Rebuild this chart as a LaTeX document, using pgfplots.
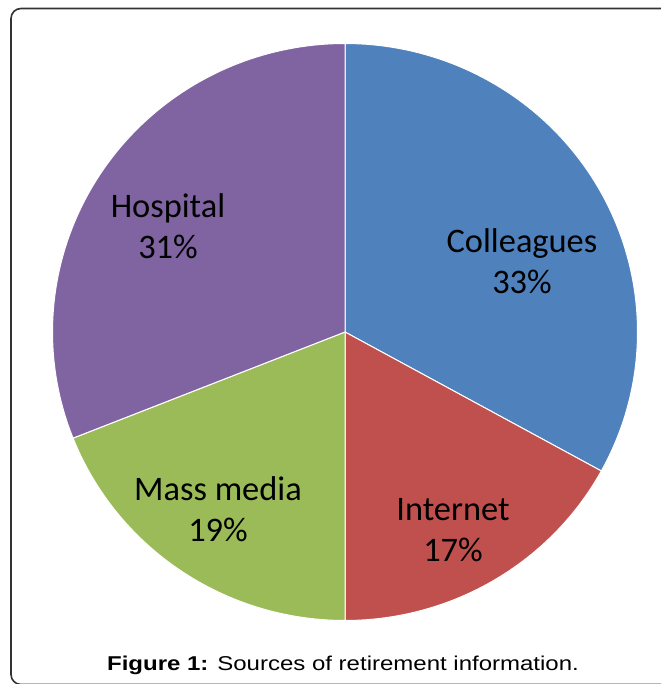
\documentclass[border=0pt]{standalone}
\usepackage{pgfplots}
\pgfplotsset{compat=1.18}
\usepackage{fontspec}
\setmainfont{Carlito}
\newfontfamily\arialfont[FakeStretch=1.2]{Liberation Sans}
\definecolor{cBlue}{HTML}{4F81BD}
\definecolor{cRed}{HTML}{C0504D}
\definecolor{cGreen}{HTML}{9BBB59}
\definecolor{cPurple}{HTML}{8064A2}
% percentages
\def\vA{33}% Colleagues
\def\vB{17}% Internet
\def\vC{19}% Mass media
\def\vD{31}% Hospital
\pgfmathsetmacro\aA{90}
\pgfmathsetmacro\aB{\aA-3.6*\vA}
\pgfmathsetmacro\aC{\aB-3.6*\vB}
\pgfmathsetmacro\aD{\aC-3.6*\vC}
\pgfmathsetmacro\aE{\aD-3.6*\vD}
\begin{document}
\begin{tikzpicture}
\useasboundingbox (0,0) rectangle (330pt,342pt);
\begin{axis}[
  at={(0,0)}, anchor=south west,
  x=0.5pt, y=0.5pt,
  xmin=0, xmax=660, ymin=0, ymax=684,
  axis lines=none, clip=false,
  scale only axis,
]
\def\cx{345}\def\cy{352}\def\Rx{292.5}\def\Ry{288.5}
\addplot[fill=cBlue, draw=white, line width=0.5pt, domain=\aB:\aA, samples=90]
  ({\cx+\Rx*cos(x)},{\cy+\Ry*sin(x)}) -- (axis cs:\cx,\cy) -- cycle;
\addplot[fill=cRed, draw=white, line width=0.5pt, domain=\aC:\aB, samples=60]
  ({\cx+\Rx*cos(x)},{\cy+\Ry*sin(x)}) -- (axis cs:\cx,\cy) -- cycle;
\addplot[fill=cGreen, draw=white, line width=0.5pt, domain=\aD:\aC, samples=60]
  ({\cx+\Rx*cos(x)},{\cy+\Ry*sin(x)}) -- (axis cs:\cx,\cy) -- cycle;
\addplot[fill=cPurple, draw=white, line width=0.5pt, domain=\aE:\aD, samples=90]
  ({\cx+\Rx*cos(x)},{\cy+\Ry*sin(x)}) -- (axis cs:\cx,\cy) -- cycle;
\begin{scope}[every node/.style={align=center, font=\fontsize{17.2}{20.5}\selectfont, inner sep=0pt}]
\node at (axis cs:522,423) {Colleagues\\33\%};
\node at (axis cs:453,154) {Internet\\17\%};
\node at (axis cs:218,175) {Mass media\\19\%};
\node at (axis cs:168,458) {Hospital\\31\%};
\end{scope}
\node[anchor=base, inner sep=0pt, font=\arialfont\fontsize{10}{12}\selectfont] at (axis cs:343,13.5)
  {\textbf{Figure 1:} Sources of retirement information.};
\draw[black!80, line width=0.8pt, rounded corners=5pt] (axis cs:11,675.5) rectangle (axis cs:720,-0.5);
\end{axis}
\end{tikzpicture}
\end{document}
